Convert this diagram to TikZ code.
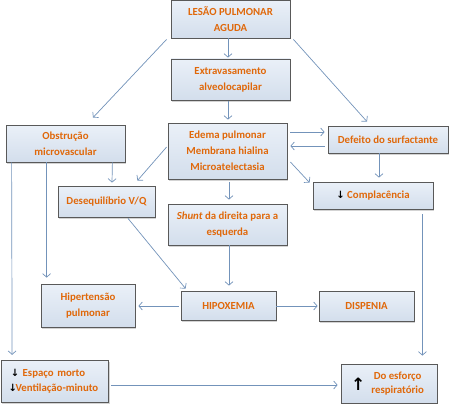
\documentclass[tikz,border=0pt]{standalone}
\usepackage{fontspec}
\setmainfont{Carlito}
\newfontfamily\arrfont{DejaVu Sans}
\usetikzlibrary{arrows.meta,shadows}
\definecolor{txtor}{HTML}{E0680A}
\definecolor{arrcol}{HTML}{7393BA}
\definecolor{bordcol}{HTML}{595959}
\definecolor{filltop}{HTML}{EAF0F8}
\definecolor{fillbot}{HTML}{D3DEEC}
\tikzset{
  box/.style={draw=bordcol, line width=0.8pt, top color=filltop, bottom color=fillbot,
    drop shadow={shadow xshift=1.2pt, shadow yshift=-1.5pt, opacity=0.35},
    font=\fontsize{10.8}{16}\selectfont\bfseries, text=txtor, align=center,
    inner sep=1pt},
  conn/.style={draw=arrcol, line width=0.7pt, -{Straight Barb[length=3.5pt,width=8pt]}},
}
\begin{document}
\begin{tikzpicture}[x=1pt,y=1pt]
\useasboundingbox (0,0) rectangle (450,-404);
\node[box, minimum width=119, minimum height=37.5] (A) at (230.5,-19.25) {LESÃO PULMONAR\\AGUDA};
\node[box, minimum width=119, minimum height=41] (B) at (230.5,-79.5) {Extravasamento\\alveolocapilar};
\node[box, minimum width=119, minimum height=56] (C) at (227.5,-151) {Edema pulmonar\\Membrana hialina\\Microatelectasia};
\node[box, minimum width=120, minimum height=27] (D) at (388,-139.5) {Defeito do surfactante};
\node[box, minimum width=119, minimum height=37] (E) at (65.5,-143.5) {Obstrução\\microvascular};
\node[box, minimum width=97, minimum height=31] (F) at (106.5,-201.5) {Desequilíbrio V/Q};
\node[box, minimum width=119, minimum height=41] (G) at (227.5,-224.5) {\textit{Shunt} da direita para a\\esquerda};
\node[box, minimum width=120, minimum height=27] (H) at (373,-195.5) {{\arrfont\color{black}\fontsize{10}{10}\selectfont ↓}\ Complacência};
\node[box, minimum width=94, minimum height=43] (I) at (88,-305.5) {Hipertensão\\pulmonar};
\node[box, minimum width=95, minimum height=29] (J) at (228.5,-305.5) {HIPOXEMIA};
\node[box, minimum width=95, minimum height=30] (K) at (366.5,-306) {DISPENIA};
\node[box, minimum width=107.5, minimum height=42.5, align=left, text width=100] (L) at (54.75,-381.5)
  {\hspace*{6pt}{\arrfont\color{black}\fontsize{10}{10}\selectfont ↓}\ Espaço morto\\[-1pt]\hspace*{4pt}{\arrfont\color{black}\fontsize{10}{10}\selectfont ↓}\hspace{-1.5pt}Ventilação-minuto};
\node[box, minimum width=96, minimum height=39] (M) at (389,-383.5)
  {\hspace*{-3pt}\raisebox{-0.35\height}{\arrfont\color{black}\fontsize{17}{17}\selectfont ↑}\hspace{6pt}\begin{tabular}{@{}c@{}}Do esforço\\[-2pt]respiratório\end{tabular}};

\draw[conn] ([shift={(-4,-1)}]A.south west) -- ([shift={(27.5,7)}]E.north);
\draw[conn] ([xshift=-2.5]A.south) -- ([shift={(-2.5,1)}]B.north);
\draw[conn] ([shift={(3,-1)}]A.south east) -- ([shift={(-21,4)}]D.north);
\draw[conn] ([shift={(-2.5,-1)}]B.south) -- ([shift={(0.5,3)}]C.north);
\draw[conn] ([shift={(3,19)}]C.east) -- ([shift={(-3,7.5)}]D.west);
\draw[conn] ([shift={(-3,-6.5)}]D.west) -- ([shift={(3,5)}]C.east);
\draw[conn] ([shift={(-9,0)}]D.south) -- ([shift={(6,4)}]H.north);
\draw[conn] ([shift={(-1,4)}]C.west) -- ([shift={(-18,5)}]F.north east);
\draw[conn] ([shift={(3,-11)}]C.east) -- ([shift={(-3,-1)}]H.north west);
\draw[conn] ([shift={(1.5,-3)}]C.south) -- ([shift={(1.5,4)}]G.north);
\draw[conn] ([shift={(-13,0)}]E.south east) -- ([shift={(5.5,3)}]F.north);
\draw[conn] ([shift={(41,0)}]E.south west) -- ([shift={(6,6)}]I.north west);
\draw[conn] ([shift={(6,0)}]E.south west) -- ([shift={(11.5,5)}]L.north west);
\draw[conn] ([shift={(21.5,-1)}]F.south) -- ([shift={(5,2)}]J.north west);
\draw[conn] ([shift={(1.5,0)}]G.south) -- ([shift={(0.5,5)}]J.north);
\draw[conn] ([shift={(-2,-0.5)}]J.west) -- ([shift={(3,-0.5)}]I.east);
\draw[conn] ([shift={(0,-0.5)}]J.east) -- ([shift={(-1,0)}]K.west);
\draw[conn] ([shift={(-11,-5)}]H.south east) -- ([shift={(-15,8)}]M.north east);
\draw[conn] ([shift={(2,-3.5)}]L.east) -- ([shift={(-3,-1.5)}]M.west);
\end{tikzpicture}
\end{document}
